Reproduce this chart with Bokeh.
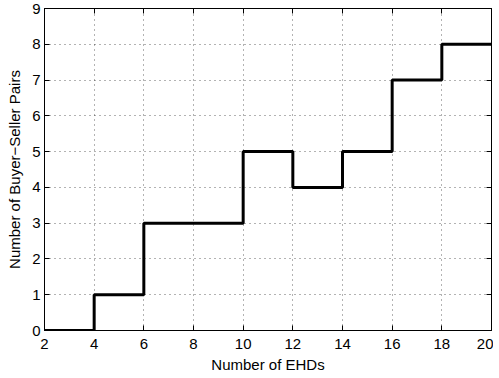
from bokeh.plotting import figure
from bokeh.models import LinearAxis, FixedTicker, Range1d
from bokeh.embed import file_html
from bokeh.resources import INLINE

ehds = [2, 4, 6, 8, 10, 12, 14, 16, 18, 20]
pairs = [0, 1, 3, 3, 5, 4, 5, 7, 8, 8]
x_ticks = [2, 4, 6, 8, 10, 12, 14, 16, 18, 20]
y_ticks = [0, 1, 2, 3, 4, 5, 6, 7, 8, 9]

p = figure(frame_width=447, frame_height=322, output_backend="svg", toolbar_location=None,
           x_range=Range1d(2, 20), y_range=Range1d(0, 9),
           min_border_left=44, min_border_top=8, min_border_right=2, min_border_bottom=10)
p.background_fill_color = "white"
p.border_fill_color = "white"
p.outline_line_color = "black"
p.outline_line_width = 1

p.step(ehds, pairs, mode="after", line_width=3, line_color="black")

font = "Liberation Sans"
for ax in (p.xaxis[0], p.yaxis[0]):
    ax.major_label_text_font = font
    ax.major_label_text_font_size = "15px"
    ax.major_label_text_color = "black"
    ax.axis_label_text_font = font
    ax.axis_label_text_font_size = "15px"
    ax.axis_label_text_font_style = "normal"
    ax.axis_label_text_color = "black"
    ax.axis_line_color = "black"
    ax.major_tick_in = 5
    ax.major_tick_out = 0
    ax.major_tick_line_color = "black"
    ax.minor_tick_line_color = None

p.xaxis[0].ticker = FixedTicker(ticks=x_ticks)
p.yaxis[0].ticker = FixedTicker(ticks=y_ticks)
p.xaxis[0].axis_label = "Number of EHDs"
p.yaxis[0].axis_label = "Number of Buyer\u2212Seller Pairs"
p.xaxis[0].major_label_standoff = 8
p.yaxis[0].major_label_standoff = 4
p.xaxis[0].axis_label_standoff = 4
p.yaxis[0].axis_label_standoff = 6

top = LinearAxis(ticker=FixedTicker(ticks=x_ticks),
                 major_label_overrides={t: "" for t in x_ticks})
right = LinearAxis(ticker=FixedTicker(ticks=y_ticks),
                   major_label_overrides={t: "" for t in y_ticks})
for ax in (top, right):
    ax.major_label_text_font_size = "1px"
    ax.major_label_standoff = 0
    ax.major_tick_in = 5
    ax.major_tick_out = 0
    ax.minor_tick_line_color = None
    ax.axis_line_color = "black"
    ax.major_tick_line_color = "black"
p.add_layout(top, "above")
p.add_layout(right, "right")

p.xgrid.ticker = FixedTicker(ticks=x_ticks)
p.ygrid.ticker = FixedTicker(ticks=y_ticks)
for g in (p.xgrid[0], p.ygrid[0]):
    g.grid_line_color = "black"
    g.grid_line_alpha = 0.6
    g.grid_line_dash = "1 4"
    g.grid_line_width = 1

open("out.html", "w").write(file_html(p, INLINE))
